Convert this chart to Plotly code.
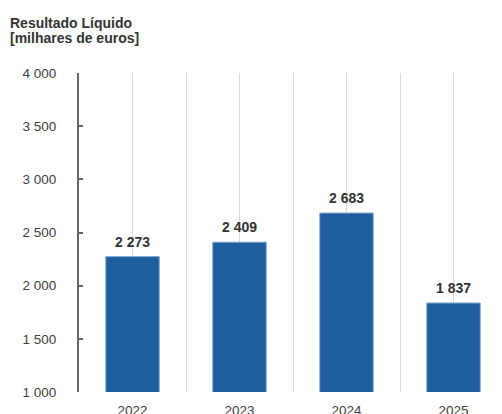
import plotly.graph_objects as go

years = ["2022", "2023", "2024", "2025"]
values = [2273, 2409, 2683, 1837]
y_ticks = [1000, 1500, 2000, 2500, 3000, 3500, 4000]

x_idx = list(range(len(years)))
labels = [f"{v:,}".replace(",", " ") for v in values]

# page has an 8px body margin; figure starts at (8, 8)
W, H = 498.5, 406
ML, MT, MB = 71, 65, 22
plot_w = W - ML
plot_h = H - MT - MB

fig = go.Figure()
fig.add_trace(go.Bar(
    x=x_idx, y=values, width=0.5,
    marker=dict(color="#1F5E9D", line=dict(color="#7FA7D3", width=1)),
    hoverinfo="skip",
))

for xi, v, t in zip(x_idx, values, labels):
    fig.add_annotation(x=xi, y=v, text=t, showarrow=False, yanchor="bottom", yshift=5,
                       font=dict(family="Liberation Sans, Arial", size=14, color="#333333", weight="bold"))

title_font = dict(family="Liberation Sans, Arial", size=14, color="#333333", weight="bold")
fig.add_annotation(xref="paper", yref="paper", x=-(79 - 9) / plot_w, y=1 + 50 / plot_h,
                   xanchor="left", yanchor="middle", text="Resultado Líquido",
                   showarrow=False, font=title_font, borderpad=0)
fig.add_annotation(xref="paper", yref="paper", x=-(79 - 9) / plot_w, y=1 + 35 / plot_h,
                   xanchor="left", yanchor="middle", text="[milhares de euros]",
                   showarrow=False, font=title_font, borderpad=0)

fig.update_layout(
    width=W, height=H,
    margin=dict(l=ML, r=0, t=MT, b=MB, autoexpand=False),
    paper_bgcolor="white", plot_bgcolor="white",
    separators=", ",
    showlegend=False,
    font=dict(family="Liberation Sans, Arial", size=13.5, color="#404040"),
    xaxis=dict(
        tickmode="array", tickvals=x_idx, ticktext=years,
        range=[-0.5, 3.5], automargin=False,
        showgrid=True, gridcolor="#D9D9D9", gridwidth=1,
        minor=dict(tickmode="linear", tick0=0.5, dtick=1, showgrid=True, gridcolor="#D9D9D9", gridwidth=1),
        zeroline=False, showline=False, ticks="",
        ticklabelstandoff=8,
        tickfont=dict(size=13.5, color="#404040"),
    ),
    yaxis=dict(
        range=[1000, 4000], tickmode="array", tickvals=y_ticks,
        tickformat=",d", automargin=False,
        showgrid=False, zeroline=False,
        showline=True, linecolor="#666666", linewidth=2,
        ticks="inside", ticklen=4, tickwidth=2, tickcolor="#666666",
        ticklabelstandoff=18,
        tickfont=dict(size=13.5, color="#404040"),
    ),
)

fig.write_html("out.html")
